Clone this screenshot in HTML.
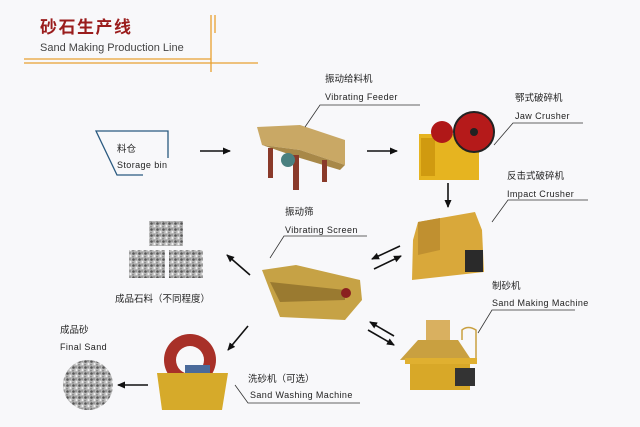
<!DOCTYPE html>
<html><head><meta charset="utf-8"><style>
html,body{margin:0;padding:0;background:#f8f8fa;}
svg{display:block;}
text{font-family:"Liberation Sans","Noto Sans CJK SC",sans-serif;fill:#222;}
.l{font-size:9.5px;}
.e{font-size:9px;letter-spacing:0.4px;}
</style></head><body>
<svg width="640" height="427" viewBox="0 0 640 427" xmlns="http://www.w3.org/2000/svg">
<defs>
<marker id="a" markerWidth="8" markerHeight="8" refX="7" refY="4" orient="auto" markerUnits="userSpaceOnUse"><path d="M0,0.5 L8,4 L0,7.5 Z" fill="#111"/></marker>
<pattern id="g" width="6" height="6" patternUnits="userSpaceOnUse"><rect width="6" height="6" fill="#b8b8b8"/><circle cx="1.5" cy="1.5" r="1.3" fill="#555"/><circle cx="4.5" cy="4" r="1.1" fill="#eee"/><circle cx="4" cy="1" r="0.8" fill="#777"/><circle cx="1" cy="4.8" r="0.9" fill="#888"/></pattern>
</defs>
<rect width="640" height="427" fill="#f8f8fa"/>
<!-- header -->
<text x="40" y="33" style="font-size:17px;font-weight:bold;fill:#9a1c1c;letter-spacing:1.5px">砂石生产线</text>
<text x="40" y="51" style="font-size:11px;fill:#444">Sand Making Production Line</text>
<g stroke="#e8a030" stroke-width="1.3">
<line x1="24" y1="59" x2="211" y2="59"/><line x1="24" y1="63" x2="258" y2="63"/>
<line x1="211" y1="15" x2="211" y2="72"/><line x1="215" y1="15" x2="215" y2="33"/>
</g>
<!-- storage bin -->
<path d="M168,158 V131 H96 L117,175 H143" fill="none" stroke="#2a5a80" stroke-width="1.3"/>
<text x="117" y="152" class="l">料仓</text>
<text x="117" y="168" class="e">Storage bin</text>
<!-- arrows -->
<g stroke="#111" stroke-width="1.6" marker-end="url(#a)">
<line x1="200" y1="151" x2="230" y2="151"/>
<line x1="367" y1="151" x2="397" y2="151"/>
<line x1="448" y1="183" x2="448" y2="207"/>
<line x1="400" y1="246" x2="372" y2="259"/>
<line x1="374" y1="269" x2="401" y2="256"/>
<line x1="250" y1="275" x2="227" y2="255"/>
<line x1="248" y1="326" x2="228" y2="350"/>
<line x1="148" y1="385" x2="118" y2="385"/>
<line x1="394" y1="336" x2="370" y2="322"/>
<line x1="368" y1="330" x2="394" y2="345"/>
</g>
<!-- vibrating feeder -->
<g>
<polygon points="257,127 300,125 345,140 345,165 300,150 262,145" fill="#c9a865"/>
<polygon points="262,145 300,150 345,165 340,170 300,158" fill="#a88848"/>
<rect x="268" y="148" width="5" height="30" fill="#8a3a2a"/>
<rect x="293" y="155" width="6" height="35" fill="#8a3a2a"/>
<rect x="322" y="160" width="5" height="22" fill="#8a3a2a"/>
<circle cx="288" cy="160" r="7" fill="#4a8080"/>
</g>
<text x="325" y="82" class="l">振动给料机</text>
<text x="325" y="100" class="e">Vibrating Feeder</text>
<polyline points="305,127 320,105 420,105" fill="none" stroke="#333" stroke-width="0.8"/>
<!-- jaw crusher -->
<g>
<rect x="419" y="134" width="60" height="46" fill="#e6b420"/>
<rect x="421" y="138" width="14" height="38" fill="#d09a10"/>
<circle cx="442" cy="132" r="11" fill="#b01818"/>
<circle cx="474" cy="132" r="20" fill="#b51a1a" stroke="#222" stroke-width="2"/>
<circle cx="474" cy="132" r="4" fill="#222"/>
</g>
<text x="515" y="101" class="l">鄂式破碎机</text>
<text x="515" y="119" class="e">Jaw Crusher</text>
<polyline points="494,145 513,123 583,123" fill="none" stroke="#333" stroke-width="0.8"/>
<!-- impact crusher -->
<g>
<polygon points="418,222 475,212 482,230 484,272 412,280 413,240" fill="#d9a83a"/>
<polygon points="418,222 440,218 440,250 418,255" fill="#c09030"/>
<rect x="465" y="250" width="18" height="22" fill="#2a2a2a"/>
</g>
<text x="507" y="179" class="l">反击式破碎机</text>
<text x="507" y="197" class="e">Impact Crusher</text>
<polyline points="492,222 508,200 588,200" fill="none" stroke="#333" stroke-width="0.8"/>
<!-- vibrating screen -->
<g>
<polygon points="262,270 296,265 360,280 362,300 345,320 280,317" fill="#c6a245"/>
<polygon points="270,282 345,290 345,300 280,302" fill="#9a7a30"/>
<circle cx="346" cy="293" r="5" fill="#8a2020"/>
</g>
<text x="285" y="215" class="l">振动筛</text>
<text x="285" y="233" class="e">Vibrating Screen</text>
<polyline points="270,258 284,236 367,236" fill="none" stroke="#333" stroke-width="0.8"/>
<!-- stones -->
<rect x="149" y="221" width="34" height="25" fill="url(#g)"/>
<rect x="129" y="250" width="36" height="28" fill="url(#g)"/>
<rect x="169" y="250" width="34" height="28" fill="url(#g)"/>
<text x="115" y="302" class="l">成品石料（不同程度）</text>
<!-- washer -->
<g>
<circle cx="190" cy="360" r="26" fill="#a83028"/>
<circle cx="190" cy="360" r="14" fill="#f8f8fa"/>
<polygon points="157,373 228,373 222,410 162,410" fill="#d6aa2a"/>
<rect x="185" y="365" width="25" height="8" fill="#4a6a9a"/>
</g>
<text x="248" y="382" class="l">洗砂机（可选）</text>
<text x="250" y="398" class="e">Sand Washing Machine</text>
<polyline points="235,385 248,403 360,403" fill="none" stroke="#333" stroke-width="0.8"/>
<!-- final sand -->
<circle cx="88" cy="385" r="25" fill="url(#g)"/>
<text x="60" y="333" class="l">成品砂</text>
<text x="60" y="350" class="e">Final Sand</text>
<!-- sand maker -->
<g>
<rect x="426" y="320" width="24" height="20" fill="#d9b060"/>
<polygon points="418,340 458,340 470,358 400,360" fill="#c9a040"/>
<rect x="405" y="358" width="72" height="6" fill="#e0b030"/>
<rect x="410" y="364" width="60" height="26" fill="#d8a828"/>
<rect x="455" y="368" width="20" height="18" fill="#333"/>
<path d="M462,340 V330 Q468,325 476,330 V358" fill="none" stroke="#c9a040" stroke-width="1.5"/>
</g>
<text x="492" y="289" class="l">制砂机</text>
<text x="492" y="306" class="e">Sand Making Machine</text>
<polyline points="478,333 492,310 575,310" fill="none" stroke="#333" stroke-width="0.8"/>
</svg>
</body></html>
